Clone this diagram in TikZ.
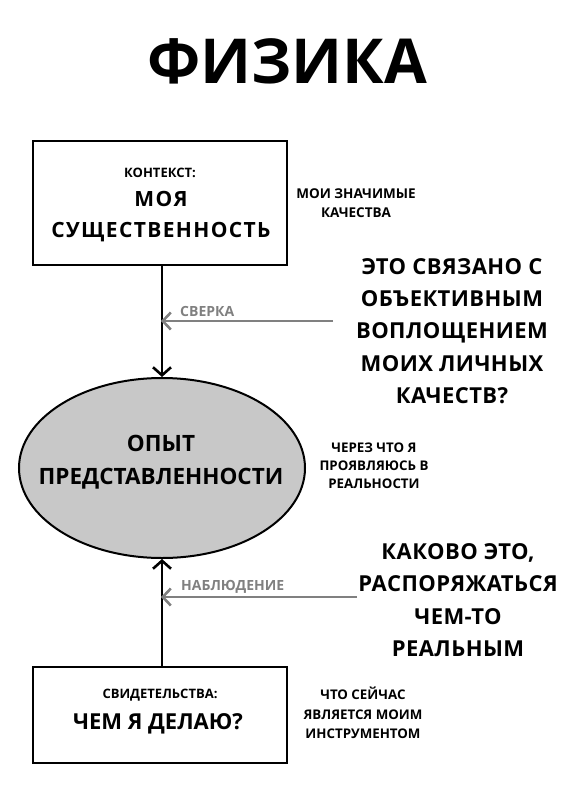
\documentclass[tikz,border=0pt]{standalone}
\usepackage{fontspec}
\setmainfont{Open Sans}[BoldFont=* Bold]
\usetikzlibrary{arrows.meta,shapes.geometric}
\definecolor{fillgray}{HTML}{C8C8C8}
\definecolor{arrgray}{HTML}{808080}
\begin{document}
\begin{tikzpicture}[x=1pt,y=-1pt,
  txt/.style={font=\bfseries, align=center, inner sep=0pt},
  boxn/.style={draw, line width=2.6pt, inner sep=0pt},
  mainarr/.style={line width=2.8pt, -{Straight Barb[length=8pt,width=18pt,line width=2.6pt]}},
  grayarr/.style={arrgray, line width=2.6pt, -{Straight Barb[length=8pt,width=17pt,line width=2.6pt]}}]
\useasboundingbox (0,0) rectangle (575,790);
\node[txt, font=\bfseries\fontsize{62}{62}\selectfont] (title) at (287,61) {ФИЗИКА};

\node[boxn, minimum width=254pt, minimum height=124pt] (ctx) at (160,203) {};
\node[txt, font=\bfseries\fontsize{13}{13}\selectfont] (ctxa) at (160,173) {КОНТЕКСТ:};
\node[txt, font=\bfseries\fontsize{21}{31}\selectfont\addfontfeatures{LetterSpace=6.5}] (ctxb) at (161,217) {МОЯ\\СУЩЕСТВЕННОСТЬ};

\node[txt, font=\bfseries\fontsize{13.5}{19}\selectfont] (q1) at (356,203) {МОИ ЗНАЧИМЫЕ\\КАЧЕСТВА};

\node[draw, ellipse, line width=2pt, fill=fillgray, minimum width=286pt, minimum height=180pt, inner sep=0pt] (exp) at (162,468) {};
\node[txt, font=\bfseries\fontsize{22.5}{32.5}\selectfont] (expt) at (161,462) {ОПЫТ\\ПРЕДСТАВЛЕННОСТИ};

\node[txt, font=\bfseries\fontsize{13.3}{18}\selectfont] (q2) at (374,466) {ЧЕРЕЗ ЧТО Я\\ПРОЯВЛЯЮСЬ В\\РЕАЛЬНОСТИ};

\node[txt, font=\bfseries\fontsize{22}{32.3}\selectfont\addfontfeatures{LetterSpace=2}] (big1) at (452,331) {ЭТО СВЯЗАНО С\\ОБЪЕКТИВНЫМ\\ВОПЛОЩЕНИЕМ\\МОИХ ЛИЧНЫХ\\КАЧЕСТВ?};
\node[txt, font=\bfseries\fontsize{22}{32.3}\selectfont\addfontfeatures{LetterSpace=2}] (big2) at (458,600) {КАКОВО ЭТО,\\РАСПОРЯЖАТЬСЯ\\ЧЕМ-ТО\\РЕАЛЬНЫМ};

\node[boxn, minimum width=254pt, minimum height=96pt] (evd) at (160,715) {};
\node[txt, font=\bfseries\fontsize{13}{13}\selectfont] (evda) at (160,695) {СВИДЕТЕЛЬСТВА:};
\node[txt, font=\bfseries\fontsize{22}{22}\selectfont] (evdb) at (158,724) {ЧЕМ Я ДЕЛАЮ?};

\node[txt, font=\bfseries\fontsize{13.3}{19.5}\selectfont] (q3) at (363,713) {ЧТО СЕЙЧАС\\ЯВЛЯЕТСЯ МОИМ\\ИНСТРУМЕНТОМ};

\draw[mainarr] (ctx.south -| exp.north) -- (exp.north);
\draw[mainarr] (evd.north -| exp.south) -- (exp.south);

\coordinate (s1) at (333,321);
\coordinate (t1) at (161,321);
\draw[grayarr] (s1) -- (t1);
\node[txt, arrgray, font=\bfseries\fontsize{14}{14}\selectfont, anchor=west] (lab1) at (180,311) {СВЕРКА};

\coordinate (s2) at (357,597);
\coordinate (t2) at (161,597);
\draw[grayarr] (s2) -- (t2);
\node[txt, arrgray, font=\bfseries\fontsize{14}{14}\selectfont, anchor=west] (lab2) at (181,587) {НАБЛЮДЕНИЕ};
\end{tikzpicture}
\end{document}
